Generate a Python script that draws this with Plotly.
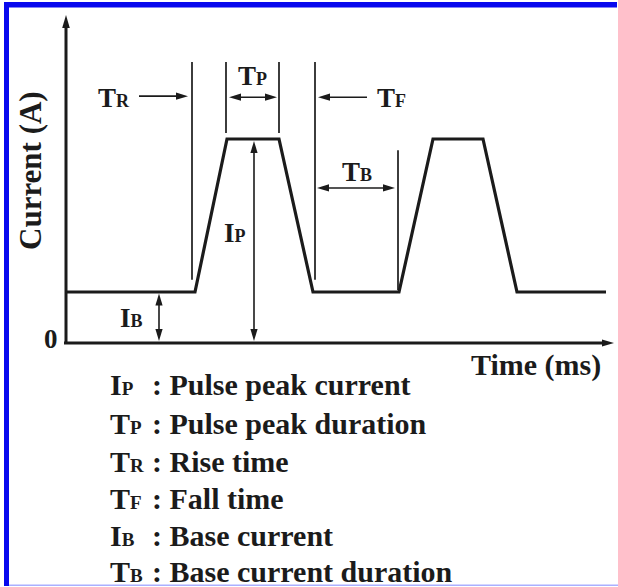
import math
import plotly.graph_objects as go

# ---------------- data (schematic pulsed-current waveform) ----------------
time_ms = [0, 12.9, 16.1, 21.3, 24.7, 33.3, 36.7, 41.7, 45.1, 54.0]
current_A = [1, 1, 4, 4, 1, 1, 4, 4, 1, 1]

legend_main = ["I", "T", "T", "T", "I", "T"]
legend_sub = ["P", "P", "R", "F", "B", "B"]
legend_desc = ["Pulse peak current", "Pulse peak duration", "Rise time",
               "Fall time", "Base current", "Base current duration"]
x_title = "Time (ms)"
y_title = "Current (A)"

# key instants / levels taken from the waveform
t_rise0, t_peak0, t_peak1, t_fall1, t_rise2 = time_ms[1:6]
I_B = current_A[0]
I_P = current_A[2]

# ---------------- canvas mapping ----------------
W, H = 618, 587
X0, SX = 66, 10.0    # pixel of t=0, px per ms
Y0, SY = 343, 51.0   # pixel of I=0, px per A


def d2px(x, y):
    return X0 + x * SX, Y0 - y * SY


def px2d(px, py):
    return (px - X0) / SX, (Y0 - py) / SY


INK = "#1b1b1b"
FONT = "Liberation Serif, Times New Roman, serif"
shapes = []
annots = []


def seg(p0, p1, w):
    shapes.append(dict(type="line", xref="x", yref="y", x0=p0[0], y0=p0[1],
                       x1=p1[0], y1=p1[1], line=dict(color=INK, width=w)))


def head(tip, tail, L=12.0, hw=3.6):
    tx, ty = d2px(*tip)
    bx, by = d2px(*tail)
    dx, dy = tx - bx, ty - by
    n = math.hypot(dx, dy)
    dx, dy = dx / n, dy / n
    cx, cy = tx - L * dx, ty - L * dy
    pts = [px2d(tx, ty), px2d(cx - hw * dy, cy + hw * dx), px2d(cx + hw * dy, cy - hw * dx)]
    path = "M {:.4f},{:.4f} L {:.4f},{:.4f} L {:.4f},{:.4f} Z".format(*pts[0], *pts[1], *pts[2])
    shapes.append(dict(type="path", xref="x", yref="y", path=path,
                       fillcolor=INK, line=dict(width=0)))


def shorten(a, b, d_px):
    ax_, ay_ = d2px(*a)
    bx_, by_ = d2px(*b)
    dx, dy = bx_ - ax_, by_ - ay_
    n = math.hypot(dx, dy)
    return px2d(bx_ - dx / n * d_px, by_ - dy / n * d_px)


def arrow(tail, tip, w=1.6, both=False, L=12.0, hw=3.6):
    end = shorten(tail, tip, L * 0.6)
    start = shorten(tip, tail, L * 0.6) if both else tail
    seg(start, end, w)
    head(tip, tail, L, hw)
    if both:
        head(tail, tip, L, hw)


def subtext(main, sub, sub_size):
    return '{}<span style="font-size:{}px">{}</span>'.format(main, sub_size, sub)


def label(text, x, y, size=27, xanchor="center"):
    annots.append(dict(text=text, x=x, y=y, xref="x", yref="y", showarrow=False,
                       xanchor=xanchor, yanchor="middle",
                       font=dict(family=FONT, size=size, color=INK, weight="bold")))


# ---------------- axes (drawn as arrows) ----------------
arrow((0, 0), (0, 6.43), w=3, L=13, hw=3.8)
arrow((-0.2, 0), (54.8, 0), w=3, L=12, hw=3.6)

# ---------------- guide lines ----------------
GL = 1.7
seg((t_rise0 - 0.3, 1.24), (t_rise0 - 0.3, 5.51), GL)
seg((t_peak0 - 0.1, 4.12), (t_peak0 - 0.1, 5.51), GL)
seg((t_peak1, 4.12), (t_peak1, 5.51), GL)
seg((t_fall1 + 0.2, 1.24), (t_fall1 + 0.2, 5.51), GL)
seg((t_rise2 - 0.1, I_B + 0.04), (t_rise2 - 0.1, 3.78), GL)

# ---------------- dimension arrows ----------------
arrow((7.3, 4.84), (t_rise0 - 0.7, 4.84))
arrow((t_peak0 + 0.2, 4.82), (t_peak1 - 0.2, 4.82), both=True)
arrow((30.1, 4.82), (t_fall1 + 0.5, 4.82))
arrow((t_fall1 + 0.4, 3.04), (t_rise2 - 0.4, 3.04), both=True)
arrow((18.8, 0.04), (18.8, I_P - 0.04), both=True)
arrow((9.3, 0.04), (9.3, I_B - 0.03), both=True)

# ---------------- labels in the plot ----------------
SUB = 18
label(subtext("T", "R", SUB), 4.75, 4.80)
label(subtext("T", "P", SUB), 18.6, 5.24)
label(subtext("T", "F", SUB), 32.5, 4.80)
label(subtext("T", "B", SUB), 29.1, 3.35)
label(subtext("I", "P", SUB), 16.9, 2.16)
label(subtext("I", "B", SUB), 6.5, 0.50)
label("0", -1.5, 0.08, size=27)

# axis titles
annots.append(dict(text=x_title, x=603 / W, y=1 - 365 / H, xref="paper", yref="paper",
                   showarrow=False, xanchor="right", yanchor="middle",
                   font=dict(family=FONT, size=30, color=INK, weight="bold")))
annots.append(dict(text=y_title, x=30 / W, y=1 - 171 / H, xref="paper", yref="paper",
                   showarrow=False, xanchor="center", yanchor="middle", textangle=-90,
                   font=dict(family=FONT, size=31, color=INK, weight="bold")))

# ---------------- legend text block ----------------
row_y = [384, 423, 461, 498, 535, 571]
for m, s, desc, py in zip(legend_main, legend_sub, legend_desc, row_y):
    annots.append(dict(text=subtext(m, s, 19), x=108 / W, y=1 - py / H,
                       xref="paper", yref="paper",
                       showarrow=False, xanchor="left", yanchor="middle",
                       font=dict(family=FONT, size=30, color=INK, weight="bold")))
    annots.append(dict(text=": " + desc, x=150 / W, y=1 - py / H, xref="paper", yref="paper",
                       showarrow=False, xanchor="left", yanchor="middle",
                       font=dict(family=FONT, size=30, color=INK, weight="bold")))

# ---------------- blue frame ----------------
def prect(x0, y0, x1, y1, color):
    shapes.append(dict(type="rect", xref="paper", yref="paper",
                       x0=x0 / W, x1=x1 / W, y0=1 - y1 / H, y1=1 - y0 / H,
                       fillcolor=color, line=dict(width=0), layer="above"))


prect(4, 2, 617, 7.5, "#0808ee")
prect(4, 2, 9, 586, "#0808ee")
prect(9, 584.5, W, 586, "#aab0ff")

# ---------------- figure ----------------
fig = go.Figure()
fig.add_trace(go.Scatter(x=time_ms, y=current_A, mode="lines",
                         line=dict(color=INK, width=3.2), hoverinfo="skip",
                         showlegend=False))
fig.update_layout(
    width=W, height=H,
    margin=dict(l=0, r=0, t=0, b=0),
    paper_bgcolor="white", plot_bgcolor="white",
    xaxis=dict(range=[(0 - X0) / SX, (W - X0) / SX], visible=False, fixedrange=True),
    yaxis=dict(range=[(Y0 - H) / SY, Y0 / SY], visible=False, fixedrange=True),
    shapes=shapes, annotations=annots, showlegend=False,
)
fig.write_html("out.html", config={"displayModeBar": False})
